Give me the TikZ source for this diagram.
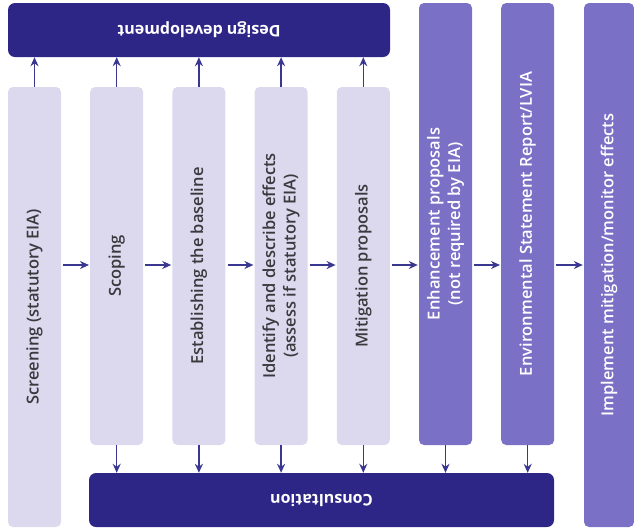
\documentclass[tikz,border=0pt]{standalone}
\usepackage{fontspec}
\setmainfont{Open Sans}[UprightFont={* Semibold}, BoldFont={* Bold}]
\usetikzlibrary{arrows.meta}
\definecolor{lightcol}{HTML}{DCD9EE}
\definecolor{darkcol}{HTML}{7A70C6}
\definecolor{barcol}{HTML}{2E2686}
\definecolor{arrcol}{HTML}{3A3791}
\definecolor{txtcol}{HTML}{3A3A3E}
\tikzset{
  colbox/.style={draw=none, fill=lightcol, rounded corners=5pt, inner sep=0pt},
  darkbox/.style={draw=none, fill=darkcol, rounded corners=5pt, inner sep=0pt},
  barbox/.style={draw=none, fill=barcol, rounded corners=7pt, inner sep=0pt},
  lbl/.style={rotate=90, align=center, font=\fontsize{16.5}{20.5}\selectfont, text=txtcol, inner sep=0pt},
  dlbl/.style={lbl, text=white},
  blbl/.style={rotate=180, font=\fontsize{16}{19}\selectfont\bfseries, text=white, inner sep=0pt},
  arr/.style={draw=arrcol, line width=1.5pt, -{Stealth[length=9pt,width=8pt]}},
}
\begin{document}
\begin{tikzpicture}[x=1pt,y=-1pt]
\useasboundingbox (0,0) rectangle (634,531);
% bars
\node[barbox, minimum width=382pt, minimum height=54pt] (design) at (199,30) {};
\node[blbl] (designt) at (design.center) {Design development};
\node[barbox, minimum width=465pt, minimum height=54pt] (cons) at (321.5,500) {};
\node[blbl] (const) at (cons.center) {Consultation};
% columns
\node[colbox, minimum width=53pt, minimum height=440pt] (c1) at (34.5,307) {};
\node[colbox, minimum width=53pt, minimum height=358pt] (c2) at (116.7,266) {};
\node[colbox, minimum width=53pt, minimum height=358pt] (c3) at (198.9,266) {};
\node[colbox, minimum width=53pt, minimum height=358pt] (c4) at (281.1,266) {};
\node[colbox, minimum width=53pt, minimum height=358pt] (c5) at (363.3,266) {};
\node[darkbox, minimum width=53pt, minimum height=442pt] (c6) at (445.5,224) {};
\node[darkbox, minimum width=53pt, minimum height=442pt] (c7) at (527.7,224) {};
\node[darkbox, minimum width=50pt, minimum height=524pt] (c8) at (609,265) {};
% labels
\node[lbl] (t1) at (c1.center) {Screening (statutory EIA)};
\node[lbl] (t2) at (c2.center) {Scoping};
\node[lbl] (t3) at (c3.center) {Establishing the baseline};
\node[lbl] (t4) at (c4.center) {Identify and describe effects\\(assess if statutory EIA)};
\node[lbl] (t5) at (c5.center) {Mitigation proposals};
\node[dlbl] (t6) at (c6.center) {Enhancement proposals\\(not required by EIA)};
\node[dlbl] (t7) at (c7.center) {Environmental Statement Report/LVIA};
\node[dlbl] (t8) at (c8.center) {Implement mitigation/monitor effects};
% arrows
\coordinate (mid) at (0,265);
\foreach \a/\b in {c1/c2,c2/c3,c3/c4,c4/c5,c5/c6,c6/c7,c7/c8}{
  \draw[arr, shorten <=2pt, shorten >=1pt] (\a.east |- mid) -- (\b.west |- mid);
}
\foreach \c in {c1,c2,c3,c4,c5}{
  \draw[arr] (\c.north) -- (design.south -| \c.north);
}
\foreach \c in {c2,c3,c4,c5,c6,c7}{
  \draw[arr] (\c.south) -- (cons.north -| \c.south);
}
\end{tikzpicture}
\end{document}
